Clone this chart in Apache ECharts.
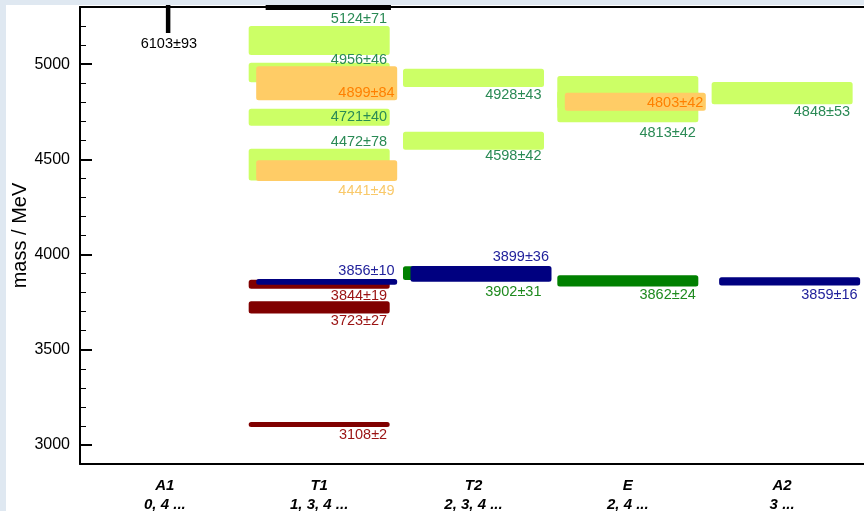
<!DOCTYPE html>
<html>
<head>
<meta charset="utf-8">
<script src="https://cdn.jsdelivr.net/npm/echarts@6/dist/echarts.min.js"></script>
<style>
  html, body { margin: 0; padding: 0; width: 864px; height: 511px; overflow: hidden; background: #dfe8f1; }
  #chart { position: absolute; left: 6px; top: 5px; width: 858px; height: 506px; background: #ffffff; }
</style>
</head>
<body>
<div id="chart"></div>
<script>
// Lattice channels (irreps) and the continuum spins they contain
const channels = ['A1', 'T1', 'T2', 'E', 'A2'];
const spinLists = ['0, 4 ...', '1, 3, 4 ...', '2, 3, 4 ...', '2, 4 ...', '3 ...'];

// Mass axis ticks (MeV)
const massTicks = [3000, 3500, 4000, 4500, 5000];
const massMinorTicks = [3100, 3200, 3300, 3400, 3600, 3700, 3800, 3900,
                        4100, 4200, 4300, 4400, 4600, 4700, 4800, 4900, 5100, 5200];

// Extracted levels: [channel, mass, uncertainty]
const lightGreenLevels = [
  ['T1', 5124, 71], ['T1', 4956, 46], ['T1', 4721, 40], ['T1', 4472, 78],
  ['T2', 4928, 43], ['T2', 4598, 42],
  ['E', 4813, 42],
  ['A2', 4848, 53]
];
// broad band in E drawn without a label
const lightGreenBands = [['E', 4816, 116]];
const orangeLevels = [['T1', 4899, 84], ['T1', 4441, 49], ['E', 4803, 42]];
const darkRedLevels = [['T1', 3844, 19], ['T1', 3723, 27], ['T1', 3108, 2]];
const greenLevels = [['T2', 3902, 31], ['E', 3862, 24]];
const navyLevels = [['T1', 3856, 10], ['T2', 3899, 36], ['A2', 3859, 16]];
// levels above the plotted range
const offScaleLevels = [['A1', 6103, 93]];
const offScaleBars = ['T1'];

const MASS_MIN = 2900, MASS_MAX = 5300;
const X_MIN = -0.55, X_MAX = 4.55;
const HALF = 0.4504;          // half width of a level box (axis units)
const SHIFT = 0.0486;         // sideways offset of the second colour set
const FONT = '"Liberation Sans", Arial, Helvetica, sans-serif';

// label placement: [side, gap in px]; default is below with 8px gap
const labelPlacement = {
  '5124±71': ['above', 7], '4956±46': ['above', 3], '4721±40': ['inside', 0],
  '4472±78': ['above', 7], '4899±84': ['inside', 10], '4441±49': ['below', 10],
  '4928±43': ['below', 7.5], '4598±42': ['below', 6.5], '4813±42': ['below', 24.5],
  '4803±42': ['inside', 1.5], '4848±53': ['below', 8],
  '3856±10': ['above', 8], '3899±36': ['above', 8.5], '3844±19': ['below', 7],
  '3723±27': ['below', 7.5], '3902±31': ['below', 12], '3862±24': ['below', 8.5],
  '3859±16': ['below', 10], '3108±2': ['below', 8]
};
const labelColorOverride = { '4441±49': '#f9c96a' };

const sets = [
  { levels: lightGreenBands, fill: '#ccff66', text: null, shift: 0 },
  { levels: lightGreenLevels, fill: '#ccff66', text: '#2a8a55', shift: 0 },
  { levels: orangeLevels, fill: '#ffcc66', text: '#ff8000', shift: SHIFT },
  { levels: darkRedLevels, fill: '#800000', text: '#9a1212', shift: 0 },
  { levels: greenLevels, fill: '#008000', text: '#1f8a1f', shift: 0 },
  { levels: navyLevels, fill: '#000080', text: '#22229c', shift: SHIFT }
];

function boxGeom(api, c, m, e, s) {
  const p0 = api.coord([c - HALF + s, m + e]);
  const p1 = api.coord([c + HALF + s, m - e]);
  let y = p0[1], h = p1[1] - p0[1];
  const MIN_H = 3;
  if (h < MIN_H) { y -= (MIN_H - h) / 2; h = MIN_H; }
  return { x: p0[0], y: y, w: p1[0] - p0[0], h: h };
}

const series = [];
const labels = [];

sets.forEach(function (set) {
  const data = set.levels.map(function (l) {
    return [channels.indexOf(l[0]), l[1], l[2], set.shift];
  });
  series.push({
    type: 'custom',
    xAxisIndex: 0, yAxisIndex: 0,
    encode: { x: 0, y: 1 },
    data: data,
    renderItem: function (params, api) {
      const g = boxGeom(api, api.value(0), api.value(1), api.value(2), api.value(3));
      return {
        type: 'rect',
        shape: { x: g.x, y: g.y, width: g.w, height: g.h, r: 1.5 },
        style: { fill: set.fill, stroke: set.fill, lineWidth: 2 }
      };
    }
  });
  if (set.text) {
    set.levels.forEach(function (l) {
      const txt = l[1] + '±' + l[2];
      labels.push({
        c: channels.indexOf(l[0]), m: l[1], e: l[2], s: set.shift, text: txt,
        color: labelColorOverride[txt] || set.text,
        place: labelPlacement[txt] || ['below', 8]
      });
    });
  }
});

// levels above the range: upward stub with value, and a bar clipped at the top edge
series.push({
  type: 'custom',
  xAxisIndex: 0, yAxisIndex: 0,
  encode: { x: 0, y: 1 },
  data: offScaleLevels.map(function (l) { return [channels.indexOf(l[0]), MASS_MAX, l[1], l[2]]; }),
  renderItem: function (params, api) {
    const top = api.coord([api.value(0), MASS_MAX]);
    return {
      type: 'group',
      children: [
        { type: 'rect', shape: { x: top[0] + 1, y: top[1] - 2, width: 4.5, height: 28 },
          style: { fill: '#000' } },
        { type: 'text', x: top[0] + 4, y: top[1] + 37,
          style: { text: api.value(2) + '±' + api.value(3), fill: '#000',
                   font: '14.5px ' + FONT, align: 'center', verticalAlign: 'middle' } }
      ]
    };
  }
});
series.push({
  type: 'custom',
  xAxisIndex: 0, yAxisIndex: 0,
  encode: { x: 0, y: 1 },
  data: offScaleBars.map(function (ch) { return [channels.indexOf(ch), MASS_MAX]; }),
  renderItem: function (params, api) {
    const a = api.coord([api.value(0) - 0.347, MASS_MAX]);
    const b = api.coord([api.value(0) + 0.465, MASS_MAX]);
    return { type: 'rect', shape: { x: a[0], y: a[1] - 2.5, width: b[0] - a[0], height: 5.5 },
             style: { fill: '#000' } };
  }
});

// value labels on top of all boxes
series.push({
  type: 'custom',
  xAxisIndex: 0, yAxisIndex: 0,
  encode: { x: 0, y: 1 },
  z: 10,
  data: labels.map(function (l) { return [l.c, l.m]; }),
  renderItem: function (params, api) {
    const l = labels[params.dataIndex];
    const g = boxGeom(api, l.c, l.m, l.e, l.s);
    const top = g.y - 1, bottom = g.y + g.h + 1;
    let y;
    if (l.place[0] === 'above') y = top - l.place[1];
    else if (l.place[0] === 'inside') y = g.y + g.h / 2 + l.place[1];
    else y = bottom + l.place[1];
    return {
      type: 'text', x: g.x + g.w - 1.5, y: y,
      style: { text: l.text, fill: l.color, font: '14.5px ' + FONT,
               align: 'right', verticalAlign: 'middle' }
    };
  }
});

const chart = echarts.init(document.getElementById('chart'), null, { renderer: 'canvas' });
chart.setOption({
  animation: false,
  backgroundColor: '#ffffff',
  grid: { left: 74, right: -3, top: 2, bottom: 47, containLabel: false, outerBoundsMode: 'none' },
  xAxis: [
    {
      type: 'value', min: X_MIN, max: X_MAX, position: 'bottom',
      axisLine: { show: true, onZero: false, lineStyle: { color: '#000', width: 2 } },
      axisTick: { show: false },
      splitLine: { show: false },
      axisLabel: {
        customValues: [0, 1, 2, 3, 4],
        formatter: function (v) { return channels[v] + '\n' + spinLists[v]; },
        fontFamily: FONT, fontSize: 15, fontWeight: 'bold', fontStyle: 'italic',
        color: '#000', lineHeight: 19, margin: 12
      }
    },
    {
      type: 'value', min: X_MIN, max: X_MAX, position: 'top',
      axisLine: { show: true, onZero: false, lineStyle: { color: '#000', width: 2 } },
      axisTick: { show: false }, axisLabel: { show: false }, splitLine: { show: false }
    }
  ],
  yAxis: [
    {
      type: 'value', min: MASS_MIN, max: MASS_MAX, position: 'left',
      name: 'mass / MeV', nameLocation: 'middle', nameGap: 50, nameMoveOverlap: false,
      nameTextStyle: { fontFamily: FONT, fontSize: 20, color: '#000' },
      axisLine: { show: true, onZero: false, lineStyle: { color: '#000', width: 2 } },
      axisTick: { show: true, inside: true, length: 12, customValues: massTicks,
                  lineStyle: { color: '#000', width: 2 } },
      axisLabel: { customValues: massTicks, fontFamily: FONT, fontSize: 16, color: '#000', margin: 10,
                   formatter: function (v) { return String(v); } },
      splitLine: { show: false }
    },
    {
      type: 'value', min: MASS_MIN, max: MASS_MAX, position: 'left',
      axisLine: { show: false, onZero: false },
      axisTick: { show: true, inside: true, length: 6, customValues: massMinorTicks,
                  lineStyle: { color: '#000', width: 1 } },
      axisLabel: { show: false }, splitLine: { show: false }
    }
  ],
  series: series
});
</script>
</body>
</html>
